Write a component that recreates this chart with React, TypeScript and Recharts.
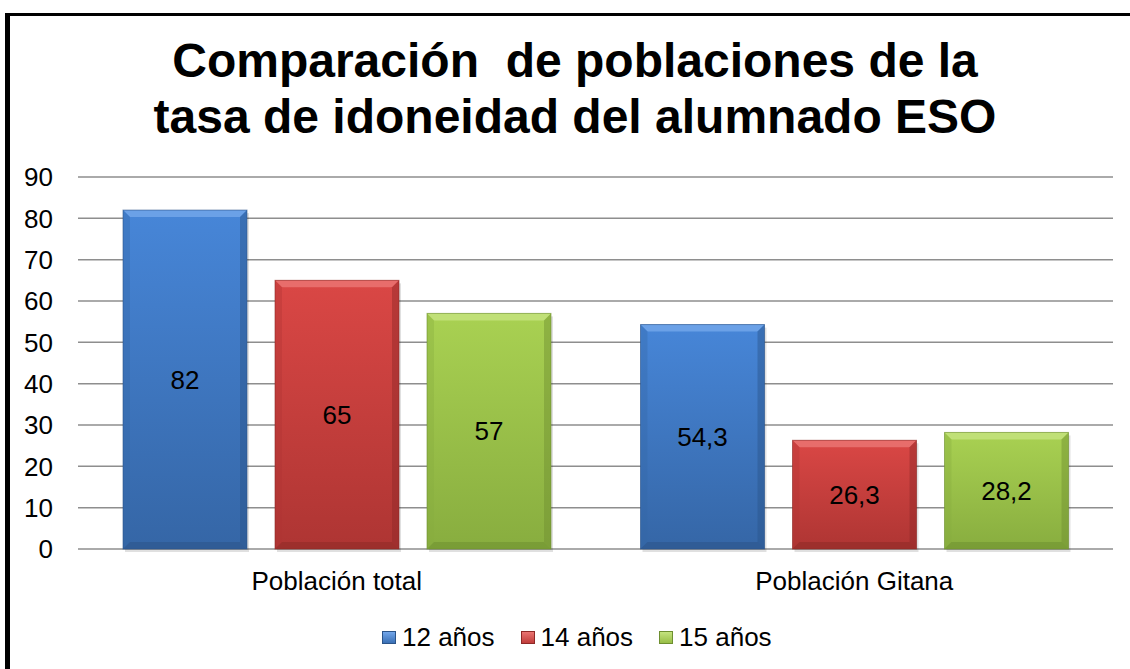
import React from 'react'
import {
  BarChart, Bar, XAxis, YAxis, CartesianGrid, LabelList,
} from 'recharts'

const CATEGORIES = ['Población total', 'Población Gitana']
const SERIES_NAMES = ['12 años', '14 años', '15 años']
const VALUES_12 = [82, 54.3]
const VALUES_14 = [65, 26.3]
const VALUES_15 = [57, 28.2]
const Y_TICKS = [0, 10, 20, 30, 40, 50, 60, 70, 80, 90]
const TITLE_LINES = ['Comparación  de poblaciones de la', 'tasa de idoneidad del alumnado ESO']

const FONT = 'Arial, "Liberation Sans", sans-serif'
const FS = 26

const data = CATEGORIES.map((name, i) => ({
  name,
  a12: VALUES_12[i],
  a14: VALUES_14[i],
  a15: VALUES_15[i],
}))

const PALETTE: Record<string, { top: string; bottom: string; light: string; dark: string; swatch: string }> = {
  blue: { top: '#4786D8', bottom: '#3566A6', light: '#72A6EA', dark: '#2B5489', swatch: '#3A70B5' },
  red: { top: '#DA4745', bottom: '#AE3533', light: '#EA7472', dark: '#8E2927', swatch: '#C03D3B' },
  green: { top: '#A9D152', bottom: '#88AD3F', light: '#C4E37E', dark: '#6E8F30', swatch: '#98BE47' },
}

function makeShape(key: string) {
  const c = PALETTE[key]
  return (props: any) => {
    const { x, y, width, height } = props
    if (!height || height <= 0) return null
    const b = 7
    return (
      <g>
        <rect x={x + 2} y={y + 3} width={width} height={height} fill="rgba(0,0,0,0.12)" />
        <rect x={x} y={y} width={width} height={height} fill={`url(#grad-${key})`} />
        <polygon
          points={`${x},${y} ${x + width},${y} ${x + width - b},${y + b} ${x + b},${y + b}`}
          fill={c.light}
          opacity={0.85}
        />
        <polygon
          points={`${x},${y} ${x + b},${y + b} ${x + b},${y + height - b} ${x},${y + height}`}
          fill={c.bottom}
          opacity={0.35}
        />
        <polygon
          points={`${x + width},${y} ${x + width - b},${y + b} ${x + width - b},${y + height - b} ${x + width},${y + height}`}
          fill={c.dark}
          opacity={0.45}
        />
        <polygon
          points={`${x},${y + height} ${x + b},${y + height - b} ${x + width - b},${y + height - b} ${x + width},${y + height}`}
          fill={c.dark}
          opacity={0.55}
        />
        <rect x={x} y={y} width={width} height={height} fill="none" stroke={c.dark} strokeWidth={1} strokeOpacity={0.6} />
      </g>
    )
  }
}

const fmt = (v: any) => String(v).replace('.', ',')

function LegendBox() {
  const keys = ['blue', 'red', 'green']
  return (
    <div style={{
      position: 'absolute', left: 382, top: 622, display: 'flex', gap: 26,
      fontFamily: FONT, fontSize: FS, color: '#000', lineHeight: '30px',
    }}>
      {SERIES_NAMES.map((n, i) => (
        <div key={n} style={{ display: 'flex', alignItems: 'center', gap: 6 }}>
          <div style={{
            width: 14, height: 13,
            background: `linear-gradient(180deg, ${PALETTE[keys[i]].light}, ${PALETTE[keys[i]].swatch})`,
            border: `1px solid ${PALETTE[keys[i]].dark}`, boxSizing: 'border-box',
          }} />
          <span>{n}</span>
        </div>
      ))}
    </div>
  )
}

export default function App() {
  return (
    <div style={{ position: 'relative', width: 1130, height: 669, overflow: 'hidden', background: '#fff' }}>
      <style>{'body{margin:0}'}</style>
      <div style={{
        position: 'absolute', left: 5, top: 13, width: 1200, height: 800,
        borderLeft: '5px solid #000', borderTop: '3px solid #000',
      }} />
      <svg width={1130} height={160} style={{ position: 'absolute', left: 0, top: 0 }}>
        {TITLE_LINES.map((t, i) => (
          <text key={t} x={575} y={77 + i * 56} textAnchor="middle" fontFamily={FONT} fontWeight="bold" fontSize={48} fill="#000" style={{ whiteSpace: 'pre' }}>
            {t}
          </text>
        ))}
      </svg>
      <div style={{ position: 'absolute', left: 0, top: 0 }}>
        <BarChart
          width={1130}
          height={669}
          data={data}
          margin={{ top: 177, right: 17, bottom: 90, left: 0 }}
          barGap={28}
        >
          <defs>
            {Object.keys(PALETTE).map(k => (
              <linearGradient key={k} id={`grad-${k}`} x1="0" y1="0" x2="0" y2="1">
                <stop offset="0%" stopColor={PALETTE[k].top} />
                <stop offset="100%" stopColor={PALETTE[k].bottom} />
              </linearGradient>
            ))}
          </defs>
          <CartesianGrid horizontal vertical={false} stroke="#8E8E8E" strokeWidth={1.5} />
          <XAxis
            dataKey="name"
            axisLine={false}
            tickLine={false}
            tickSize={0}
            tickMargin={23}
            height={30}
            tick={{ fontFamily: FONT, fontSize: FS, fill: '#000' }}
          />
          <YAxis
            width={78}
            domain={[0, 90]}
            ticks={Y_TICKS}
            interval={0}
            axisLine={false}
            tickLine={false}
            tickSize={0}
            tickMargin={25}
            tick={{ fontFamily: FONT, fontSize: FS, fill: '#000' }}
          />
          <Bar dataKey="a12" name={SERIES_NAMES[0]} barSize={124} fill={PALETTE.blue.swatch} shape={makeShape('blue')} isAnimationActive={false}>
            <LabelList dataKey="a12" position="center" formatter={fmt} fill="#000" fontFamily={FONT} fontSize={FS} />
          </Bar>
          <Bar dataKey="a14" name={SERIES_NAMES[1]} barSize={124} fill={PALETTE.red.swatch} shape={makeShape('red')} isAnimationActive={false}>
            <LabelList dataKey="a14" position="center" formatter={fmt} fill="#000" fontFamily={FONT} fontSize={FS} />
          </Bar>
          <Bar dataKey="a15" name={SERIES_NAMES[2]} barSize={124} fill={PALETTE.green.swatch} shape={makeShape('green')} isAnimationActive={false}>
            <LabelList dataKey="a15" position="center" formatter={fmt} fill="#000" fontFamily={FONT} fontSize={FS} />
          </Bar>
        </BarChart>
      </div>
      <LegendBox />
    </div>
  )
}
